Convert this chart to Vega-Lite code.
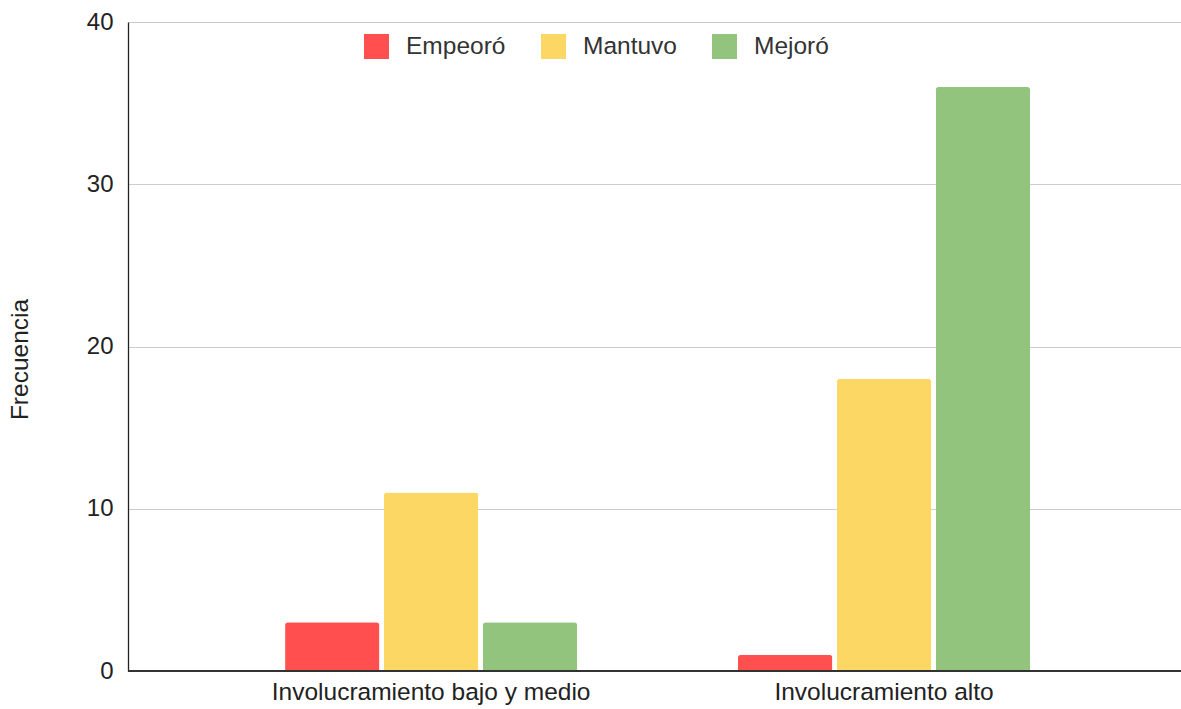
{
  "$schema": "https://vega.github.io/schema/vega-lite/v6.json",
  "width": 1053,
  "height": 649,
  "autosize": {"type": "none"},
  "padding": {"left": 128, "top": 22, "right": 0, "bottom": 38},
  "background": "white",
  "config": {
    "view": {"stroke": null},
    "font": "Liberation Sans"
  },
  "data": {
    "values": [
      {"grupo": "Involucramiento bajo y medio", "cambio": "Empeoró", "frecuencia": 3},
      {"grupo": "Involucramiento bajo y medio", "cambio": "Mantuvo", "frecuencia": 11},
      {"grupo": "Involucramiento bajo y medio", "cambio": "Mejoró", "frecuencia": 3},
      {"grupo": "Involucramiento alto", "cambio": "Empeoró", "frecuencia": 1},
      {"grupo": "Involucramiento alto", "cambio": "Mantuvo", "frecuencia": 18},
      {"grupo": "Involucramiento alto", "cambio": "Mejoró", "frecuencia": 36}
    ]
  },
  "encoding": {
    "x": {
      "field": "grupo",
      "type": "nominal",
      "sort": ["Involucramiento bajo y medio", "Involucramiento alto"],
      "scale": {"paddingInner": 0.355, "paddingOuter": 0.34, "align": 0.51},
      "axis": {
        "title": null,
        "labelAngle": 0,
        "labelFontSize": 24.5,
        "labelColor": "#222222",
        "labelPadding": 9,
        "labelLimit": 0,
        "ticks": false,
        "domain": false,
        "grid": false
      }
    },
    "xOffset": {
      "field": "cambio",
      "type": "nominal",
      "sort": ["Empeoró", "Mantuvo", "Mejoró"],
      "scale": {"paddingInner": 0.046, "paddingOuter": 0}
    },
    "y": {
      "field": "frecuencia",
      "type": "quantitative",
      "scale": {"domain": [0, 40], "nice": false},
      "axis": {
        "title": "Frecuencia",
        "titleFontSize": 24.5,
        "titleFontWeight": "normal",
        "titleColor": "#222222",
        "titleX": -108,
        "titleY": 337,
        "titleAngle": -90,
        "titleAlign": "center",
        "titleBaseline": "middle",
        "values": [0, 10, 20, 30, 40],
        "labelFontSize": 24,
        "labelColor": "#222222",
        "labelPadding": 15,
        "ticks": false,
        "domainColor": "#222222",
        "domainWidth": 1.3,
        "gridColor": "#cccccc",
        "gridWidth": 1
      }
    },
    "color": {
      "field": "cambio",
      "type": "nominal",
      "sort": ["Empeoró", "Mantuvo", "Mejoró"],
      "scale": {
        "domain": ["Empeoró", "Mantuvo", "Mejoró"],
        "range": ["#ff4f4f", "#fdd764", "#93c47d"]
      },
      "legend": {
        "title": null,
        "orient": "none",
        "direction": "horizontal",
        "legendX": 236,
        "legendY": 12,
        "symbolType": "square",
        "symbolSize": 625,
        "symbolStrokeWidth": 0,
        "labelFontSize": 24.5,
        "labelColor": "#333333",
        "labelOffset": 17,
        "columnPadding": 35
      }
    }
  },
  "layer": [
    {"mark": {"type": "bar", "cornerRadiusTopLeft": 3, "cornerRadiusTopRight": 3}},
    {
      "mark": {"type": "rule", "color": "#333333", "strokeWidth": 1.5},
      "encoding": {
        "x": null,
        "xOffset": null,
        "color": null,
        "y": {"datum": 0, "type": "quantitative"}
      }
    }
  ]
}
